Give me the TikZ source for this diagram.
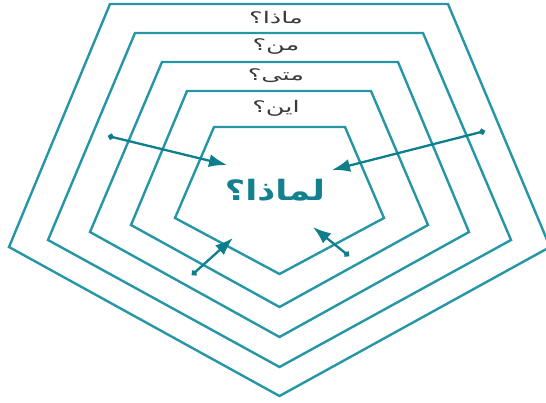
\documentclass[tikz,border=0pt]{standalone}
\usepackage{fontspec}
\usetikzlibrary{arrows.meta}
\TeXXeTstate=1
\newfontfamily\arabicfont[Script=Arabic]{DejaVu Sans}
\definecolor{pentline}{HTML}{2596A6}
\definecolor{arrowcol}{HTML}{0E7E8C}
\definecolor{labelcol}{HTML}{3A3A3A}
\definecolor{titlecol}{HTML}{12808F}
\tikzset{
  pent/.style={draw=pentline, line width=2.4pt, line join=miter},
  arr/.style={draw=arrowcol, line width=2.3pt, {Circle[length=6pt]}-{Latex[length=18pt,width=13pt]}},
  lbl/.style={text=labelcol, font=\arabicfont\fontsize{16}{18}\selectfont, inner sep=0pt, xscale=1.6},
  ttl/.style={text=titlecol, font=\arabicfont\bfseries\fontsize{28}{32}\selectfont, inner sep=0pt, xscale=1.25}
}
\begin{document}
\begin{tikzpicture}[x=1pt,y=-1pt]
\useasboundingbox (0,0) rectangle (546,402);
\clip (0,0) rectangle (546,402);
% pentagons (outer to inner)
\draw[pent] (110,4) -- (448,4) -- (550,247) -- (279.5,396) -- (9,247) -- cycle;
\draw[pent] (135,33) -- (423,33) -- (511,240) -- (279.5,367) -- (48,240) -- cycle;
\draw[pent] (162,62) -- (398,62) -- (469,232) -- (279.5,337) -- (90,232) -- cycle;
\draw[pent] (187,91) -- (371,91) -- (428,225) -- (279.5,307) -- (131,225) -- cycle;
\draw[pent] (214,127) -- (345,127) -- (384,218) -- (279.5,274) -- (175,218) -- cycle;
% labels
\node[lbl] (l1) at (276,18) {\beginR ماذا؟\endR};
\node[lbl] (l2) at (276,47) {\beginR من؟\endR};
\node[lbl] (l3) at (276,76) {\beginR متى؟\endR};
\node[lbl] (l4) at (276,108) {\beginR اين؟\endR};
\node[ttl] (why) at (275,190) {\beginR لماذا؟\endR};
% arrow end points
\coordinate (a1s) at (108,136);
\coordinate (a1e) at (227,165);
\coordinate (a2s) at (485,131);
\coordinate (a2e) at (332,170);
\coordinate (a3s) at (192,275);
\coordinate (a3e) at (233,238);
\coordinate (a4s) at (349,256);
\coordinate (a4e) at (313,227);
\draw[arr] (a1s) -- (a1e);
\draw[arr] (a2s) -- (a2e);
\draw[arr] (a3s) -- (a3e);
\draw[arr] (a4s) -- (a4e);
\end{tikzpicture}
\end{document}
